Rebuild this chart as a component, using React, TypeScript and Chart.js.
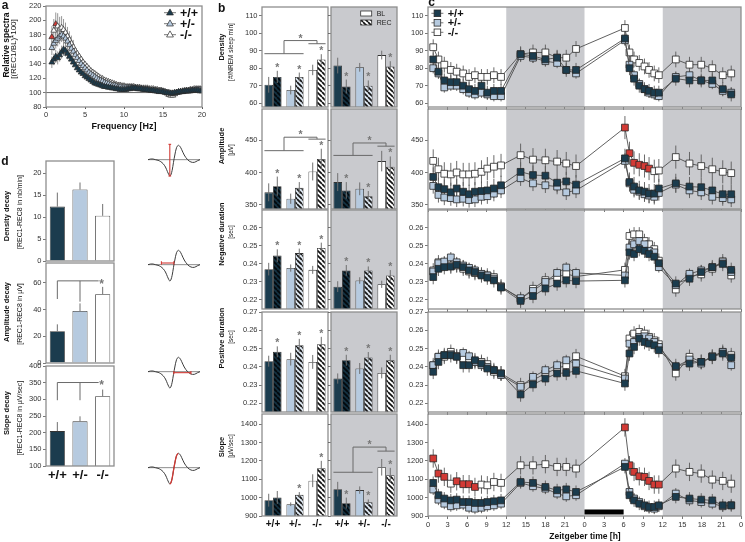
import React, { useEffect, useRef } from 'react';
import { Chart, registerables } from 'chart.js';

Chart.register(...registerables);

// ---------------- data ----------------
const genotypes = ['+/+', '+/-', '-/-'];

// panel a : relative spectra (REC1/BL*100)
const freqHz = [
  0.75, 1, 1.25, 1.5, 1.75, 2, 2.25, 2.5, 2.75, 3,
  3.25, 3.5, 3.75, 4, 4.25, 4.5, 4.75, 5, 5.25, 5.5,
  5.75, 6, 6.25, 6.5, 6.75, 7, 7.25, 7.5, 7.75, 8,
  8.25, 8.5, 8.75, 9, 9.25, 9.5, 9.75, 10, 10.25, 10.5,
  10.75, 11, 11.25, 11.5, 11.75, 12, 12.25, 12.5, 12.75, 13,
  13.25, 13.5, 13.75, 14, 14.25, 14.5, 14.75, 15, 15.25, 15.5,
  15.75, 16, 16.25, 16.5, 16.75, 17, 17.25, 17.5, 17.75, 18,
  18.25, 18.5, 18.75, 19, 19.25, 19.5, 19.75, 20,
];
const specWT = [
  142, 146, 150, 148, 152, 156, 160, 158, 154, 150,
  146, 142, 138, 134, 131, 128, 126, 123, 121, 119,
  117, 115, 113, 112, 111, 110, 109, 108, 108, 107,
  107, 106, 106, 105, 105, 104, 104, 104, 104, 105,
  105, 106, 106, 106, 105, 105, 105, 104, 104, 104,
  103, 103, 103, 102, 102, 101, 101, 101, 100, 100,
  99, 99, 99, 100, 100, 101, 101, 101, 102, 102,
  102, 102, 103, 103, 103, 103, 102, 102,
];
const specHET = [
  162, 168, 172, 175, 178, 180, 178, 175, 171, 166,
  161, 157, 152, 148, 144, 140, 137, 134, 131, 128,
  126, 124, 122, 120, 118, 117, 116, 114, 113, 112,
  111, 110, 110, 109, 108, 108, 107, 107, 107, 107,
  107, 107, 106, 106, 106, 105, 105, 105, 104, 104,
  104, 103, 103, 103, 102, 102, 102, 101, 101, 100,
  100, 99, 99, 99, 100, 100, 101, 101, 102, 102,
  102, 103, 103, 103, 104, 104, 104, 104,
];
const specKO = [
  177, 186, 195, 192, 188, 190, 187, 183, 178, 173,
  168, 163, 158, 154, 150, 146, 142, 139, 136, 133,
  130, 128, 126, 124, 122, 120, 119, 117, 116, 115,
  114, 113, 112, 111, 110, 110, 109, 109, 108, 108,
  108, 108, 108, 107, 107, 107, 106, 106, 106, 106,
  105, 105, 105, 104, 104, 103, 103, 102, 101, 99,
  97, 96, 96, 98, 100, 101, 101, 102, 102, 103,
  103, 104, 104, 105, 105, 105, 105, 104,
];
const specErrWT = [8, 8, 9, 9, 9, 9, 9, 8, 8, 7, 7, 6];
const specErrHET = [10, 10, 11, 11, 11, 10, 10, 9, 9, 8, 8, 7];
const specErrKO = [15, 16, 16, 18, 17, 16, 15, 14, 13, 12, 11, 10];
const koSignificantHz = [0.75, 1.25];
const spectraBaseline = 100;

// panel b : bar values (light = white panel, dark = grey panel)
const densityLightBL = [70.5, 67.5, 79];
const densityLightBLErr = [4.5, 2.5, 3];
const densityLightREC = [75, 75, 85];
const densityLightRECErr = [3.5, 2.5, 3];
const densityDarkBL = [81.5, 80.5, 87.5];
const densityDarkBLErr = [4.5, 2.5, 2.5];
const densityDarkREC = [69.5, 70, 81];
const densityDarkRECErr = [4, 3, 3];

const amplitudeLightBL = [369, 359, 401.5];
const amplitudeLightBLErr = [14, 8, 14];
const amplitudeLightREC = [378.6, 376, 421];
const amplitudeLightRECErr = [15, 9, 16];
const amplitudeDarkBL = [385, 374.5, 417.7];
const amplitudeDarkBLErr = [14, 10, 16];
const amplitudeDarkREC = [372, 363, 409];
const amplitudeDarkRECErr = [13, 8, 16];

const negDurLightBL = [0.2371, 0.2377, 0.2367];
const negDurLightBLErr = [0.0035, 0.002, 0.0022];
const negDurLightREC = [0.2446, 0.246, 0.2488];
const negDurLightRECErr = [0.0035, 0.0025, 0.003];
const negDurDarkBL = [0.2274, 0.2308, 0.2287];
const negDurDarkBLErr = [0.003, 0.0018, 0.002];
const negDurDarkREC = [0.2364, 0.2364, 0.2336];
const negDurDarkRECErr = [0.003, 0.0022, 0.003];

const posDurLightBL = [0.2431, 0.2442, 0.2427];
const posDurLightBLErr = [0.003, 0.0035, 0.0038];
const posDurLightREC = [0.2482, 0.2518, 0.2524];
const posDurLightRECErr = [0.003, 0.0035, 0.004];
const posDurDarkBL = [0.2336, 0.2391, 0.2367];
const posDurDarkBLErr = [0.0028, 0.003, 0.003];
const posDurDarkREC = [0.2436, 0.2451, 0.2436];
const posDurDarkRECErr = [0.003, 0.003, 0.003];

const slopeLightBL = [986, 964, 1092];
const slopeLightBLErr = [35, 10, 35];
const slopeLightREC = [1001, 1015, 1160];
const slopeLightRECErr = [35, 15, 40];
const slopeDarkBL = [1046, 1041, 1165];
const slopeDarkBLErr = [40, 20, 45];
const slopeDarkREC = [970, 975, 1122];
const slopeDarkRECErr = [30, 15, 40];

const allStars = [true, true, true];
const slopeLightStars = [false, true, true];

// significance brackets (value levels)
const densityLightBracket = { low: 88.3, top: 95.8, short: 94 };
const amplitudeLightBracket = { low: 434, top: 455, short: 452 };
const amplitudeDarkBracket = { low: 426.6, top: 446, short: 441 };
const slopeDarkBracket = { low: 1138, top: 1275, short: 1253 };

// panel c : time course
const zeitgeberHours = [
  0.8, 1.6, 2.5, 3.5, 4.4, 5.4, 6.3, 7.2, 8.2, 9.1, 10.1, 11.2,
  14.2, 16.1, 18.0, 19.8, 21.2, 22.7,
  30.2, 30.9, 31.6, 32.4, 33.2, 33.9, 34.7, 35.4,
  38.0, 40.1, 41.9, 43.6, 45.2, 46.5,
];
const densityWT = [85, 78, 73, 72, 72, 70, 68, 67, 70, 66, 67, 67, 88, 87, 85, 86, 79, 79, 97, 80, 74, 70, 68, 67, 66, 66, 74, 73, 73, 73, 68, 65];
const densityHET = [80, 77, 69, 70, 70, 68, 66, 65, 66, 65, 64, 64, 87, 86, 84, 83, 79, 77, 96, 82, 76, 71, 68, 66, 65, 64, 75, 76, 73, 71, 67, 66];
const densityKO = [92, 85, 82, 79, 78, 77, 75, 76, 75, 75, 76, 75, 88, 89, 89, 86, 86, 91, 103, 89, 85, 83, 81, 79, 77, 76, 85, 82, 82, 80, 76, 77];
const densityErr = [4, 3, 4.5];

const amplitudeWT = [393, 377, 374, 369, 375, 370, 366, 370, 371, 372, 375, 380, 401, 396, 395, 384, 386, 381, 422, 385, 378, 372, 370, 367, 367, 375, 383, 378, 377, 372, 366, 366];
const amplitudeHET = [379, 365, 361, 360, 358, 359, 357, 358, 362, 363, 367, 372, 391, 383, 380, 378, 369, 372, 418, 383, 373, 370, 366, 364, 362, 368, 381, 372, 369, 362, 360, 358];
const amplitudeKO = [418, 405, 398, 397, 400, 397, 397, 398, 401, 406, 409, 411, 427, 420, 419, 417, 414, 410, 470, 430, 415, 412, 410, 406, 402, 403, 424, 414, 410, 405, 401, 399];
const amplitudeKORed = [0, 0, 0, 0, 0, 0, 0, 0, 0, 0, 0, 0, 0, 0, 0, 0, 0, 0, 1, 1, 1, 1, 1, 1, 0, 0, 0, 0, 0, 0, 0, 0];
const amplitudeErr = [15, 12, 18];

const negDurWT = [0.2327, 0.2373, 0.2382, 0.2385, 0.2395, 0.2382, 0.2364, 0.2355, 0.2336, 0.2324, 0.2309, 0.2269, 0.2195, 0.2222, 0.2264, 0.2291, 0.2309, 0.2305, 0.2309, 0.2464, 0.2455, 0.2482, 0.2473, 0.2455, 0.244, 0.2404, 0.2291, 0.2318, 0.2355, 0.2382, 0.24, 0.2367];
const negDurHET = [0.2358, 0.2404, 0.2413, 0.2436, 0.2409, 0.2391, 0.2378, 0.2364, 0.2345, 0.2336, 0.2318, 0.2273, 0.221, 0.225, 0.23, 0.235, 0.238, 0.235, 0.2336, 0.2491, 0.2509, 0.2527, 0.2509, 0.2473, 0.2464, 0.2382, 0.2282, 0.2345, 0.2364, 0.2382, 0.2409, 0.2355];
const negDurKO = [0.2364, 0.2409, 0.24, 0.2391, 0.2391, 0.2373, 0.2358, 0.2349, 0.2342, 0.2336, 0.2327, 0.2276, 0.2205, 0.2262, 0.231, 0.2325, 0.2345, 0.233, 0.2367, 0.2555, 0.2564, 0.2564, 0.2527, 0.2509, 0.2482, 0.2418, 0.2258, 0.2331, 0.2342, 0.2373, 0.2415, 0.2336];
const negDurErr = [0.004, 0.003, 0.004];

const posDurWT = [0.2373, 0.2427, 0.2464, 0.2464, 0.2455, 0.2409, 0.2409, 0.2436, 0.2418, 0.2391, 0.2382, 0.2364, 0.2249, 0.2304, 0.2336, 0.2364, 0.2367, 0.2378, 0.2309, 0.2473, 0.2509, 0.2555, 0.2536, 0.2527, 0.2518, 0.2491, 0.2404, 0.2418, 0.2427, 0.2455, 0.2473, 0.2451];
const posDurHET = [0.2409, 0.2455, 0.2464, 0.2469, 0.2458, 0.2476, 0.2458, 0.2427, 0.2409, 0.24, 0.2382, 0.2355, 0.2291, 0.2345, 0.2382, 0.2409, 0.2436, 0.2418, 0.2336, 0.2527, 0.2536, 0.2564, 0.2567, 0.2555, 0.2536, 0.2509, 0.24, 0.244, 0.2418, 0.2458, 0.2482, 0.2409];
const posDurKO = [0.2409, 0.2455, 0.2455, 0.2482, 0.2458, 0.2445, 0.244, 0.2427, 0.2427, 0.2415, 0.2373, 0.2364, 0.23, 0.2327, 0.2364, 0.2391, 0.2409, 0.2458, 0.2349, 0.2555, 0.2582, 0.2591, 0.2582, 0.2564, 0.2545, 0.2524, 0.2364, 0.2455, 0.2427, 0.2455, 0.2482, 0.2464];
const posDurErr = [0.004, 0.003, 0.004];

const slopeWT = [1080, 1013, 995, 985, 989, 976, 976, 971, 971, 976, 980, 985, 1085, 1080, 1058, 1040, 1045, 1031, 1167, 1013, 985, 967, 958, 949, 949, 958, 1004, 995, 989, 985, 958, 958];
const slopeHET = [1044, 989, 967, 953, 958, 962, 945, 940, 945, 953, 958, 967, 1080, 1062, 1049, 1022, 1007, 1013, 1185, 1031, 995, 976, 953, 945, 940, 953, 1022, 985, 976, 967, 953, 958];
const slopeKO = [1213, 1131, 1113, 1076, 1089, 1073, 1073, 1058, 1071, 1067, 1085, 1080, 1176, 1176, 1182, 1167, 1167, 1158, 1382, 1176, 1140, 1116, 1113, 1091, 1071, 1071, 1158, 1140, 1131, 1098, 1091, 1076];
const slopeKORed = [1, 1, 1, 0, 1, 1, 1, 1, 0, 0, 0, 0, 0, 0, 0, 0, 0, 0, 1, 1, 1, 1, 1, 1, 1, 1, 0, 0, 0, 0, 0, 0];
const slopeErr = [35, 30, 50];

const darkPhases = [[12, 24], [36, 48]];
const sleepDeprivation = [24, 30];

// panel d : decay REC1-REC8
const densityDecay = [12.4, 16.3, 10.3];
const densityDecayErr = [3.2, 1.6, 2.7];
const amplitudeDecay = [23.8, 39, 51.6];
const amplitudeDecayErr = [5.2, 5.7, 5.5];
const slopeDecay = [204.6, 233.8, 308.9];
const slopeDecayErr = [27, 15, 20];
const amplitudeDecayBracket = { top: 61.6, drops: [48, 46] };
const slopeDecayBracket = { top: 350, drops: [297, 297] };

// slow-wave schematic
const waveTimeMs = [0, 8, 15, 22, 30, 38, 45, 52, 58, 62, 65, 68, 72, 76, 80, 85, 90, 95, 100, 108, 118, 128, 138, 148, 155];
const waveAmp = [0, 2, 2, 0, -2, -6, -12, -22, -36, -45, -49, -46, -32, -8, 14, 36, 43, 40, 31, 14, 0, -7, -8, -3, 0];
const ampMark = [[65, -49], [65, 46]];
const ampCaps = [[[61, 46], [69, 46]], [[61, -49], [69, -49]]];
const negDurMark = [[40, 5], [77, 5]];
const negDurCaps = [[[40, 0], [40, 10]], [[77, 0], [77, 10]]];
const posDurMark = [[77, -3], [128, -3]];
const posDurCaps = [[[77, -8], [77, 2]], [[128, -8], [128, 2]]];
const slopeSpan = [65, 90];

// ---------------- styles ----------------
const FONT = '"Liberation Sans", Arial, Helvetica, sans-serif';
const DARK = '#1b3c4e';
const LIGHT = '#b6cadf';
const WHITE = '#ffffff';
const BAND = '#c9cace';
const FRAME = '#8e8e8e';
const RED = '#d23a35';
const TICK = '#333333';
const PAD = 10;

const ROW_Y = [[7, 106.5], [108.5, 208.5], [210, 309], [311.5, 411], [414, 515.5]];
const rowScales = [
  { min: 57.8, max: 115, step: 10, dec: 0 },
  { min: 343, max: 499, step: 50, dec: 0 },
  { min: 0.215, max: 0.2699, step: 0.01, dec: 2 },
  { min: 0.2153, max: 0.27, step: 0.01, dec: 2 },
  { min: 900, max: 1455, step: 100, dec: 0 },
];

const bRows = [
  {
    light: { bl: densityLightBL, blErr: densityLightBLErr, rec: densityLightREC, recErr: densityLightRECErr, stars: allStars, bracket: densityLightBracket },
    dark: { bl: densityDarkBL, blErr: densityDarkBLErr, rec: densityDarkREC, recErr: densityDarkRECErr, stars: allStars, bracket: null },
  },
  {
    light: { bl: amplitudeLightBL, blErr: amplitudeLightBLErr, rec: amplitudeLightREC, recErr: amplitudeLightRECErr, stars: allStars, bracket: amplitudeLightBracket },
    dark: { bl: amplitudeDarkBL, blErr: amplitudeDarkBLErr, rec: amplitudeDarkREC, recErr: amplitudeDarkRECErr, stars: allStars, bracket: amplitudeDarkBracket },
  },
  {
    light: { bl: negDurLightBL, blErr: negDurLightBLErr, rec: negDurLightREC, recErr: negDurLightRECErr, stars: allStars, bracket: null },
    dark: { bl: negDurDarkBL, blErr: negDurDarkBLErr, rec: negDurDarkREC, recErr: negDurDarkRECErr, stars: allStars, bracket: null },
  },
  {
    light: { bl: posDurLightBL, blErr: posDurLightBLErr, rec: posDurLightREC, recErr: posDurLightRECErr, stars: allStars, bracket: null },
    dark: { bl: posDurDarkBL, blErr: posDurDarkBLErr, rec: posDurDarkREC, recErr: posDurDarkRECErr, stars: allStars, bracket: null },
  },
  {
    light: { bl: slopeLightBL, blErr: slopeLightBLErr, rec: slopeLightREC, recErr: slopeLightRECErr, stars: slopeLightStars, bracket: null },
    dark: { bl: slopeDarkBL, blErr: slopeDarkBLErr, rec: slopeDarkREC, recErr: slopeDarkRECErr, stars: allStars, bracket: slopeDarkBracket },
  },
];

const cRows = [
  { wt: densityWT, het: densityHET, ko: densityKO, red: null, err: densityErr },
  { wt: amplitudeWT, het: amplitudeHET, ko: amplitudeKO, red: amplitudeKORed, err: amplitudeErr },
  { wt: negDurWT, het: negDurHET, ko: negDurKO, red: null, err: negDurErr },
  { wt: posDurWT, het: posDurHET, ko: posDurKO, red: null, err: posDurErr },
  { wt: slopeWT, het: slopeHET, ko: slopeKO, red: slopeKORed, err: slopeErr },
];

const dRows = [
  { vals: densityDecay, errs: densityDecayErr, scale: { min: 0, max: 22.8, step: 5, dec: 0 }, bracket: null },
  { vals: amplitudeDecay, errs: amplitudeDecayErr, scale: { min: 0, max: 75, step: 20, dec: 0 }, bracket: amplitudeDecayBracket },
  { vals: slopeDecay, errs: slopeDecayErr, scale: { min: 100, max: 399.5, step: 50, dec: 0 }, bracket: slopeDecayBracket },
];
const D_ROWS = [[161, 260.7], [263, 362.7], [365.7, 465.7]];
const ICON_BASE = [159.3, 265, 371.7, 467.7];

// ---------------- helpers ----------------
type F = { pl: number; pt: number; pr: number; pb: number; yw: number; xh: number };

function boxOf(f: F) {
  return {
    left: f.pl - f.yw - PAD,
    top: f.pt - PAD,
    width: Math.round(f.pr - f.pl + f.yw + 2 * PAD),
    height: Math.round(f.pb - f.pt + 2 * PAD + f.xh),
  };
}

const fnt = (size: number, bold = false) => ({ family: FONT, size, weight: bold ? 'bold' : 'normal' });

function common(scales: any) {
  return {
    responsive: false,
    maintainAspectRatio: false,
    animation: false,
    events: [],
    layout: { padding: PAD },
    plugins: { legend: { display: false }, tooltip: { enabled: false } },
    scales,
  };
}

function yAxis(f: F, r: any, showLabels: boolean, size: number) {
  return {
    type: 'linear',
    min: r.min,
    max: r.max,
    afterFit: (s: any) => { s.width = f.yw; },
    border: { display: false },
    grid: { display: true, drawOnChartArea: false, drawTicks: true, tickLength: 3, color: '#555', lineWidth: 0.8 },
    ticks: {
      display: showLabels, stepSize: r.step, includeBounds: false, autoSkip: false, padding: 1.5,
      color: TICK, font: fnt(size), callback: (v: any) => Number(v).toFixed(r.dec),
    },
  };
}

function catAxis(f: F, show: boolean, size: number) {
  return {
    type: 'category',
    display: show,
    afterFit: (s: any) => { s.height = f.xh; },
    grid: { display: false, drawTicks: false, tickLength: 0 },
    border: { display: false },
    ticks: { font: fnt(size, true), color: '#111', padding: 2, maxRotation: 0, autoSkip: false },
  };
}

function seg(ctx: any, x0: number, y0: number, x1: number, y1: number) {
  ctx.beginPath(); ctx.moveTo(x0, y0); ctx.lineTo(x1, y1); ctx.stroke();
}

function star(ctx: any, x: number, yTop: number, size = 10.5) {
  ctx.save();
  ctx.fillStyle = '#777';
  ctx.font = `bold ${size}px ${FONT}`;
  ctx.textAlign = 'center';
  ctx.textBaseline = 'alphabetic';
  ctx.fillText('*', x, yTop + 1 + (size - 10.5) * 0.55);
  ctx.restore();
}

function triangle(ctx: any, x: number, y: number, r: number, fill: string) {
  ctx.beginPath();
  ctx.moveTo(x, y - r);
  ctx.lineTo(x + r * 0.9, y + r * 0.6);
  ctx.lineTo(x - r * 0.9, y + r * 0.6);
  ctx.closePath();
  ctx.fillStyle = fill; ctx.fill();
  ctx.strokeStyle = '#2b2b2b'; ctx.lineWidth = 0.7; ctx.stroke();
}

function hatch(bg: string, fg: string) {
  const s = 5;
  const c = document.createElement('canvas');
  c.width = s; c.height = s;
  const g = c.getContext('2d') as CanvasRenderingContext2D;
  g.fillStyle = bg; g.fillRect(0, 0, s, s);
  g.strokeStyle = fg; g.lineWidth = 1.7;
  for (const o of [-s, 0, s]) { g.beginPath(); g.moveTo(o, 0); g.lineTo(o + s, s); g.stroke(); }
  return g.createPattern(c, 'repeat');
}

function deco(o: any) {
  return {
    id: 'deco',
    beforeDatasetsDraw(chart: any) {
      const ctx = chart.ctx, a = chart.chartArea, xs = chart.scales.x, ys = chart.scales.y;
      ctx.save();
      if (o.bg) { ctx.fillStyle = o.bg; ctx.fillRect(a.left, a.top, a.right - a.left, a.bottom - a.top); }
      if (o.bands) {
        ctx.fillStyle = BAND;
        o.bands.forEach((b: number[]) => {
          const x0 = xs.getPixelForValue(b[0]); const x1 = xs.getPixelForValue(b[1]);
          ctx.fillRect(x0, a.top, x1 - x0, a.bottom - a.top);
        });
      }
      if (o.hLine != null) {
        const y = ys.getPixelForValue(o.hLine);
        ctx.strokeStyle = '#555'; ctx.lineWidth = 0.9; seg(ctx, a.left, y, a.right, y);
      }
      if (o.pointErrs) {
        ctx.strokeStyle = o.errColor; ctx.lineWidth = 0.9;
        chart.data.datasets.forEach((ds: any, di: number) => {
          if (ds.errs == null) return;
          const meta = chart.getDatasetMeta(di);
          meta.data.forEach((el: any, i: number) => {
            const e = Array.isArray(ds.errs) ? ds.errs[i] : ds.errs;
            if (e == null) return;
            const v = ds.data[i].y;
            seg(ctx, el.x, ys.getPixelForValue(v - e), el.x, ys.getPixelForValue(v + e));
          });
        });
      }
      ctx.restore();
    },
    afterDatasetsDraw(chart: any) {
      const ctx = chart.ctx, a = chart.chartArea, xs = chart.scales.x, ys = chart.scales.y;
      ctx.save();
      if (o.barErrs) {
        chart.data.datasets.forEach((ds: any, di: number) => {
          const meta = chart.getDatasetMeta(di);
          meta.data.forEach((el: any, i: number) => {
            const v = ds.data[i], e = ds.errs[i];
            const yTop = ys.getPixelForValue(v + e);
            const yBot = o.barErrs === 'both' ? ys.getPixelForValue(v - e) : ys.getPixelForValue(v);
            ctx.strokeStyle = '#707070'; ctx.lineWidth = 1;
            seg(ctx, el.x, yBot, el.x, yTop);
            if (ds.stars && ds.stars[i]) star(ctx, el.x, yTop - 1);
          });
        });
      }
      if (o.bBracket) {
        const br = o.bBracket;
        const m0 = chart.getDatasetMeta(0), m1 = chart.getDatasetMeta(1);
        const left0 = m0.data[0].x - m0.data[0].width / 2;
        const right1 = m1.data[1].x + m1.data[1].width / 2;
        const left2 = m0.data[2].x - m0.data[2].width / 2;
        const right2 = m1.data[2].x + m1.data[2].width / 2;
        const mid = (xs.getPixelForValue(0) + xs.getPixelForValue(1)) / 2;
        const c2 = xs.getPixelForValue(2);
        const yl = ys.getPixelForValue(br.low), yt = ys.getPixelForValue(br.top), yss = ys.getPixelForValue(br.short);
        ctx.strokeStyle = '#6a6a6a'; ctx.lineWidth = 1;
        seg(ctx, left0, yl, right1, yl);
        seg(ctx, mid, yl, mid, yt);
        seg(ctx, mid, yt, c2, yt);
        seg(ctx, c2, yt, c2, yss);
        seg(ctx, left2, yss, right2, yss);
        star(ctx, (mid + c2) / 2, yt);
      }
      if (o.dBracket) {
        const br = o.dBracket;
        const x0 = xs.getPixelForValue(0), x1 = xs.getPixelForValue(1), x2 = xs.getPixelForValue(2);
        const yt = ys.getPixelForValue(br.top);
        ctx.strokeStyle = '#6a6a6a'; ctx.lineWidth = 1;
        seg(ctx, x0, yt, x2 - 4, yt);
        seg(ctx, x0, yt, x0, ys.getPixelForValue(br.drops[0]));
        seg(ctx, x1, yt, x1, ys.getPixelForValue(br.drops[1]));
        star(ctx, x2 - 1, yt + 5, 12);
      }
      if (o.sd) {
        ctx.fillStyle = '#000';
        const x0 = xs.getPixelForValue(o.sd[0]); const x1 = xs.getPixelForValue(o.sd[1]);
        ctx.fillRect(x0, a.bottom - 6.5, x1 - x0, 5);
      }
      if (o.frame) {
        ctx.strokeStyle = FRAME; ctx.lineWidth = 1.3;
        ctx.strokeRect(a.left, a.top, a.right - a.left, a.bottom - a.top);
      }
      if (o.triLegend) {
        const fills = [DARK, LIGHT, WHITE];
        genotypes.forEach((g, i) => {
          const x = a.right - 32, y = a.top + 6.7 + i * 11;
          ctx.strokeStyle = '#555'; ctx.lineWidth = 0.8; seg(ctx, x - 6, y, x + 6, y);
          triangle(ctx, x, y, 3.8, fills[i]);
          ctx.fillStyle = '#111'; ctx.font = `bold 12.5px ${FONT}`;
          ctx.textAlign = 'left'; ctx.textBaseline = 'middle';
          ctx.fillText(g, x + 10, y + 0.5);
        });
      }
      if (o.sqLegend) {
        const fills = [DARK, LIGHT, WHITE];
        genotypes.forEach((g, i) => {
          const x = a.left + 9.4, y = a.top + 6.3 + i * 9.5;
          ctx.strokeStyle = '#555'; ctx.lineWidth = 0.8; seg(ctx, x - 6, y, x + 6, y);
          ctx.fillStyle = fills[i]; ctx.fillRect(x - 3.3, y - 3.3, 6.6, 6.6);
          ctx.strokeStyle = '#2a2a2a'; ctx.strokeRect(x - 3.3, y - 3.3, 6.6, 6.6);
          ctx.fillStyle = '#111'; ctx.font = `bold 11px ${FONT}`;
          ctx.textAlign = 'left'; ctx.textBaseline = 'middle';
          ctx.fillText(g, x + 10.3, y + 0.5);
        });
      }
      if (o.barLegend) {
        const x = a.left + 29.7;
        const items: any[] = [[a.top + 4, WHITE, 'BL'], [a.top + 13, o.barLegend, 'REC']];
        items.forEach(([y, fill, t]) => {
          ctx.fillStyle = fill; ctx.fillRect(x, y, 11, 5);
          ctx.strokeStyle = '#333'; ctx.lineWidth = 0.8; ctx.strokeRect(x, y, 11, 5);
          ctx.fillStyle = '#222'; ctx.font = `7px ${FONT}`;
          ctx.textAlign = 'left'; ctx.textBaseline = 'middle';
          ctx.fillText(t, x + 16, y + 2.7);
        });
      }
      ctx.restore();
    },
  };
}

// ---------------- chart builders ----------------
function buildSpectra(f: F) {
  const mk = (label: string, ys: number[], errs: number[], fill: string, colors?: string[]) => ({
    label,
    data: freqHz.map((x, i) => ({ x, y: ys[i] })),
    errs,
    showLine: false,
    pointStyle: 'triangle',
    pointRadius: 3.4,
    pointBackgroundColor: colors || fill,
    pointBorderColor: '#2b2b2b',
    pointBorderWidth: 0.7,
  });
  return {
    type: 'scatter',
    data: {
      datasets: [
        mk(genotypes[0], specWT, specErrWT, DARK),
        mk(genotypes[1], specHET, specErrHET, LIGHT),
        mk(genotypes[2], specKO, specErrKO, WHITE, freqHz.map((h) => (koSignificantHz.includes(h) ? RED : WHITE))),
      ],
    },
    options: common({
      x: {
        type: 'linear', min: 0, max: 20,
        afterFit: (s: any) => { s.height = f.xh; },
        border: { display: false },
        grid: { display: true, drawOnChartArea: false, tickLength: 2, color: '#555' },
        ticks: { stepSize: 5, autoSkip: false, maxRotation: 0, padding: 1.5, color: TICK, font: fnt(7.5) },
      },
      y: yAxis(f, { min: 80, max: 220, step: 20, dec: 0 }, true, 7.5),
    }),
    plugins: [deco({ hLine: spectraBaseline, pointErrs: true, errColor: '#8a8a8a', frame: true, triLegend: true })],
  };
}

function buildBars(f: F, r: number, side: 'light' | 'dark') {
  const d = (bRows[r] as any)[side];
  const hatches = [hatch('#14303f', '#02080c'), hatch('#dde7f1', '#161616'), hatch(WHITE, '#111')];
  return {
    type: 'bar',
    data: {
      labels: genotypes,
      datasets: [
        { label: 'BL', data: d.bl, errs: d.blErr, backgroundColor: [DARK, LIGHT, WHITE], borderColor: '#333', borderWidth: 0.8, categoryPercentage: 0.78, barPercentage: 1 },
        { label: 'REC', data: d.rec, errs: d.recErr, stars: d.stars, backgroundColor: hatches, borderColor: '#333', borderWidth: 0.8, categoryPercentage: 0.78, barPercentage: 1 },
      ],
    },
    options: common({ x: catAxis(f, r === 4, 10), y: yAxis(f, rowScales[r], side === 'light', 7.5) }),
    plugins: [deco({
      bg: side === 'dark' ? BAND : null,
      barErrs: 'both',
      bBracket: d.bracket,
      frame: true,
      barLegend: r === 0 && side === 'dark' ? hatches[2] : null,
    })],
  };
}

function buildTimeCourse(f: F, r: number) {
  const row = cRows[r];
  const mk = (label: string, ys: number[], fill: string, err: number, red: number[] | null) => ({
    label,
    data: zeitgeberHours.map((x, i) => ({ x, y: ys[i] })),
    errs: err,
    showLine: true,
    borderColor: '#4e4e4e',
    borderWidth: 0.9,
    tension: 0,
    pointStyle: 'rect',
    pointRadius: 4.8,
    pointBackgroundColor: red ? red.map((v) => (v ? RED : fill)) : fill,
    pointBorderColor: '#262626',
    pointBorderWidth: 0.8,
  });
  return {
    type: 'line',
    data: {
      datasets: [
        mk(genotypes[0], row.wt, DARK, row.err[0], null),
        mk(genotypes[1], row.het, LIGHT, row.err[1], null),
        mk(genotypes[2], row.ko, WHITE, row.err[2], row.red),
      ],
    },
    options: common({
      x: {
        type: 'linear', min: 0, max: 48,
        afterFit: (s: any) => { s.height = f.xh; },
        border: { display: false },
        grid: { display: true, drawOnChartArea: false, drawTicks: true, tickLength: 3, color: '#555', lineWidth: 0.8 },
        ticks: {
          display: r === 4, stepSize: 3, autoSkip: false, maxRotation: 0, padding: 1, color: TICK, font: fnt(7.5),
          callback: (v: any) => String(Math.round(Number(v)) % 24),
        },
      },
      y: yAxis(f, rowScales[r], true, 7.5),
    }),
    plugins: [deco({ bands: darkPhases, pointErrs: true, errColor: '#5a5a5a', frame: true, sd: r === 4 ? sleepDeprivation : null, sqLegend: r === 0 })],
  };
}

function buildDecay(f: F, r: number) {
  const d = dRows[r];
  return {
    type: 'bar',
    data: {
      labels: genotypes,
      datasets: [{ data: d.vals, errs: d.errs, backgroundColor: [DARK, LIGHT, WHITE], borderColor: '#333', borderWidth: 0.8, categoryPercentage: 0.667, barPercentage: 1 }],
    },
    options: common({ x: catAxis(f, r === 2, 13), y: yAxis(f, d.scale, true, 7.5) }),
    plugins: [deco({ barErrs: 'up', dBracket: d.bracket, frame: true })],
  };
}

function buildIcon(f: F, k: number) {
  const pts = (arr: number[][]) => arr.map((p) => ({ x: p[0], y: p[1] }));
  const wave = waveTimeMs.map((t, i) => ({ x: t, y: waveAmp[i] }));
  const redLine = (data: any[], w = 1.1) => ({ data, showLine: true, borderColor: RED, borderWidth: w, pointRadius: 0, clip: false, tension: 0 });
  let marks: any[] = [];
  if (k === 0) marks = [redLine(pts(ampMark)), ...ampCaps.map((c) => redLine(pts(c)))];
  if (k === 1) marks = [redLine(pts(negDurMark)), ...negDurCaps.map((c) => redLine(pts(c)))];
  if (k === 2) marks = [redLine(pts(posDurMark)), ...posDurCaps.map((c) => redLine(pts(c)))];
  if (k === 3) marks = [{ ...redLine(wave.filter((p) => p.x >= slopeSpan[0] && p.x <= slopeSpan[1]), 1.3), tension: 0.35 }];
  return {
    type: 'scatter',
    data: {
      datasets: [
        ...marks,
        { data: wave, showLine: true, borderColor: '#3c3c3c', borderWidth: 1, pointRadius: 0, tension: 0.35, clip: false },
        { data: pts([[0, 0], [155, 0]]), showLine: true, borderColor: '#8c8c8c', borderWidth: 1, pointRadius: 0, clip: false },
      ],
    },
    options: common({
      x: { type: 'linear', display: false, min: 0, max: 155 },
      y: { type: 'linear', display: false, min: -55, max: 50 },
    }),
  };
}

// ---------------- components ----------------
function ChartBox({ f, build }: { f: F; build: (f: F) => any }) {
  const ref = useRef<HTMLCanvasElement | null>(null);
  const b = boxOf(f);
  useEffect(() => {
    if (!ref.current) return;
    const chart = new Chart(ref.current, build(f));
    return () => chart.destroy();
  }, []);
  return (
    <canvas
      ref={ref}
      width={b.width}
      height={b.height}
      style={{ position: 'absolute', left: b.left, top: b.top, width: b.width, height: b.height }}
    />
  );
}

function Txt({ x, y, text, size, bold, rot }: { x: number; y: number; text: string; size: number; bold?: boolean; rot?: boolean }) {
  return (
    <div
      style={{
        position: 'absolute', left: x, top: y,
        transform: `translate(-50%, -50%)${rot ? ' rotate(-90deg)' : ''}`,
        whiteSpace: 'nowrap', fontFamily: FONT, fontSize: size, fontWeight: bold ? 700 : 400,
        lineHeight: 1, color: '#111',
      }}
    >
      {text}
    </div>
  );
}

const bTitles = [
  ['Density', '[#/NREM sleep min]', 47, 52],
  ['Amplitude', '[µV]', 146, 150],
  ['Negative duration', '[sec]', 234, 232],
  ['Positive duration', '[sec]', 338, 337],
  ['Slope', '[µV/sec]', 447, 446],
];
const dTitles = [
  ['Density decay', '[REC1-REC8 in nb/min]', 216, 212],
  ['Amplitude decay', '[REC1-REC8 in µV]', 312, 314],
  ['Slope decay', '[REC1-REC8 in µV/sec]', 413, 418],
];

export default function App() {
  const aFrame: F = { pl: 46, pr: 202, pt: 6, pb: 107, yw: 30, xh: 12 };
  return (
    <div style={{ position: 'absolute', left: 0, top: 0, width: 745, height: 542, overflow: 'hidden', background: '#fff', fontFamily: FONT }}>
      <ChartBox f={aFrame} build={buildSpectra} />

      {ROW_Y.map((ry, r) => (
        <React.Fragment key={'b' + r}>
          <ChartBox f={{ pl: 262, pr: 328, pt: ry[0], pb: ry[1], yw: 30, xh: r === 4 ? 15 : 0 }} build={(f) => buildBars(f, r, 'light')} />
          <ChartBox f={{ pl: 331, pr: 397, pt: ry[0], pb: ry[1], yw: 3, xh: r === 4 ? 15 : 0 }} build={(f) => buildBars(f, r, 'dark')} />
          <ChartBox f={{ pl: 428.3, pr: 741.7, pt: ry[0], pb: ry[1], yw: 34, xh: r === 4 ? 12 : 3 }} build={(f) => buildTimeCourse(f, r)} />
        </React.Fragment>
      ))}

      {D_ROWS.map((ry, r) => (
        <ChartBox key={'d' + r} f={{ pl: 45.7, pr: 113.3, pt: ry[0], pb: ry[1], yw: 30, xh: r === 2 ? 16 : 0 }} build={(f) => buildDecay(f, r)} />
      ))}

      {ICON_BASE.map((base, k) => (
        <ChartBox key={'i' + k} f={{ pl: 148.3, pr: 200, pt: base - 50 / 3, pb: base + 55 / 3, yw: 0, xh: 0 }} build={(f) => buildIcon(f, k)} />
      ))}

      <Txt x={5} y={4.5} text="a" size={12} bold />
      <Txt x={221.7} y={8.4} text="b" size={12} bold />
      <Txt x={431.7} y={2.3} text="c" size={12} bold />
      <Txt x={5} y={160.9} text="d" size={12} bold />

      <Txt x={6} y={45} text="Relative spectra" size={8.5} bold rot />
      <Txt x={14} y={49} text="[(REC1/BL)*100]" size={8} rot />
      <Txt x={124} y={126} text="Frequency [Hz]" size={9} bold />

      {bTitles.map((t, i) => (
        <React.Fragment key={'bt' + i}>
          <Txt x={221.5} y={t[2] as number} text={t[0] as string} size={7.5} bold rot />
          <Txt x={230.7} y={t[3] as number} text={t[1] as string} size={6.5} rot />
        </React.Fragment>
      ))}

      {dTitles.map((t, i) => (
        <React.Fragment key={'dt' + i}>
          <Txt x={7.3} y={t[2] as number} text={t[0] as string} size={7.5} bold rot />
          <Txt x={19} y={t[3] as number} text={t[1] as string} size={7} rot />
        </React.Fragment>
      ))}

      <Txt x={585} y={536} text="Zeitgeber time [h]" size={8.5} bold />
    </div>
  );
}
